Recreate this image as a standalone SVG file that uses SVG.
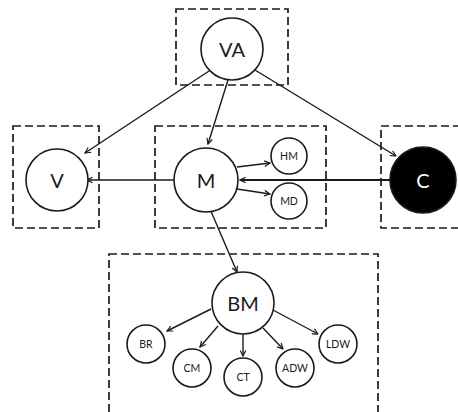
<svg xmlns="http://www.w3.org/2000/svg" width="458" height="412" viewBox="0 0 458 412">
<defs>
<style>
.box{fill:none;stroke:#1a1a1a;stroke-width:1.7;stroke-dasharray:8 4}
.n{fill:#fff;stroke:#1a1a1a;stroke-width:1.6}
.t{font-family:Lato,"Open Sans",sans-serif;fill:#1a1a1a;text-anchor:middle;dominant-baseline:central}
.big{font-size:20px}
.sm{font-size:10.5px}
.e{stroke:#1a1a1a;stroke-width:1.4;fill:none;marker-end:url(#ah)}
</style>
<marker id="ah" viewBox="0 0 10 10" refX="9" refY="5" markerWidth="7" markerHeight="7" orient="auto" markerUnits="userSpaceOnUse">
<path d="M1,1 L9,5 L1,9" fill="none" stroke="#1a1a1a" stroke-width="1.7"/>
</marker>
</defs>
<g id="boxes">
<rect class="box" x="176" y="9" width="112" height="76"/>
<rect class="box" x="13" y="126" width="86" height="102"/>
<rect class="box" x="155" y="126" width="171" height="102"/>
<rect class="box" x="381" y="126" width="90" height="102"/>
<rect class="box" x="109" y="254" width="269" height="170"/>
</g>
<g id="connectors">
<line class="e" x1="209" y1="71" x2="85" y2="153"/>
<line class="e" x1="228" y1="80" x2="208" y2="144"/>
<line class="e" x1="255" y1="70" x2="396" y2="156"/>
<line class="e" x1="174" y1="180" x2="87" y2="180"/>
<line class="e" x1="390" y1="180" x2="240" y2="180" style="stroke-width:2"/>
<line class="e" x1="237" y1="167" x2="270" y2="163"/>
<line class="e" x1="237" y1="189" x2="270" y2="194"/>
<line class="e" x1="210" y1="209" x2="237" y2="272"/>
<line class="e" x1="211" y1="309" x2="167" y2="331"/>
<line class="e" x1="218" y1="326" x2="200" y2="347"/>
<line class="e" x1="243" y1="334" x2="243" y2="356"/>
<line class="e" x1="263" y1="328" x2="283" y2="349"/>
<line class="e" x1="273" y1="310" x2="318" y2="334"/>
</g>
<g id="VA"><circle class="n" cx="232" cy="49" r="31"/><text class="t big" x="232" y="49">VA</text></g>
<g id="V"><circle class="n" cx="57" cy="180" r="31"/><text class="t big" x="57" y="180">V</text></g>
<g id="M"><circle class="n" cx="206" cy="180" r="32"/><text class="t big" x="206" y="180">M</text></g>
<g id="HM"><circle class="n" cx="289" cy="156" r="18"/><text class="t sm" x="289" y="156">HM</text></g>
<g id="MD"><circle class="n" cx="289" cy="201" r="18"/><text class="t sm" x="289" y="201">MD</text></g>
<g id="C"><circle cx="423" cy="180" r="33" fill="#000" stroke="#1a1a1a" stroke-width="1.6"/><text class="t big" x="423" y="180" style="fill:#fff">C</text></g>
<g id="BM"><circle class="n" cx="243" cy="303" r="31"/><text class="t big" x="243" y="303">BM</text></g>
<g id="BR"><circle class="n" cx="146" cy="344" r="19"/><text class="t sm" x="146" y="344">BR</text></g>
<g id="CM"><circle class="n" cx="192" cy="368" r="19"/><text class="t sm" x="192" y="368">CM</text></g>
<g id="CT"><circle class="n" cx="243" cy="377" r="19"/><text class="t sm" x="243" y="377">CT</text></g>
<g id="ADW"><circle class="n" cx="295" cy="368" r="19"/><text class="t sm" x="295" y="368">ADW</text></g>
<g id="LDW"><circle class="n" cx="338" cy="344" r="19"/><text class="t sm" x="338" y="344">LDW</text></g>
</svg>
